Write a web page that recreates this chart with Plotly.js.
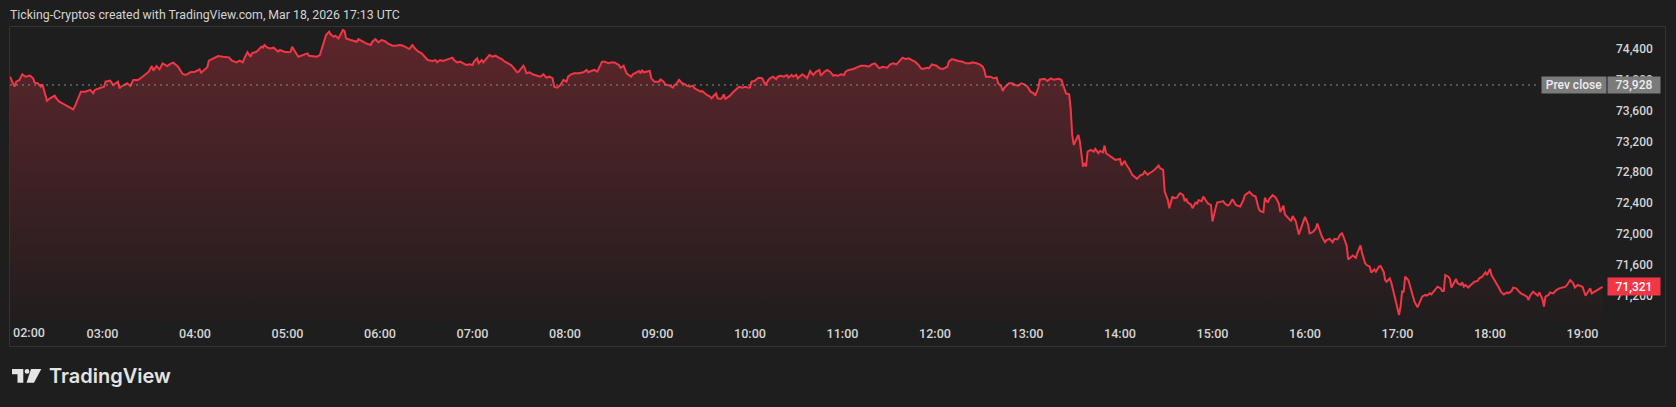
<!DOCTYPE html>
<html>
<head>
<meta charset="utf-8">
<script src="https://cdn.plot.ly/plotly-3.0.1.min.js"></script>
<style>
html,body{margin:0;padding:0;background:#1e1e1e;overflow:hidden}
#chart{width:1676px;height:407px}
</style>
</head>
<body>
<div id="chart"></div>
<script>
// ---------------- data ----------------
const sessionDate = '2026-03-18';
const sessionStartHour = 2; // 02:00
const titleText = 'Ticking-Cryptos created with TradingView.com, Mar 18, 2026 17:13 UTC';
const brandText = 'TradingView';
const prevCloseLabel = 'Prev close';
const prevClose = 73928;
const hourTicks = ['03:00','04:00','05:00','06:00','07:00','08:00','09:00','10:00','11:00','12:00','13:00','14:00','15:00','16:00','17:00','18:00','19:00'];
const firstHourLabel = '02:00';
const priceTicks = [71200, 71600, 72000, 72400, 72800, 73200, 73600, 74000, 74400];

// minutes after 02:00
const minutesFromStart = [
0,3,4,6,8,10,13,15,16,18,20,21,24,26,29,30,32,35,37,39,41,42,44,46,49,52,54,55,58,61,62,65,67,70,71,72,76,78,80,83,86,90,92,93,95,97,99,102,104,106,109,112,114,117,120,123,124,128,129,132,135,138,142,144,147,149,
151,152,154,156,157,160,162,163,164,165,167,169,171,173,174,175,177,178,181,182,183,185,186,187,189,191,193,194,197,199,201,202,204,205,207,208,210,211,213,215,216,217,218,221,223,225,226,228,229,231,234,235,237,239,241,243,245,248,250,253,255,257,259,261,263,265,267,269,271,274,276,277,279,281,283,285,287,288,290,292,294,296,298,
300,301,303,304,306,307,309,311,313,315,317,319,321,323,325,327,329,330,332,333,334,335,337,339,342,344,346,348,350,352,353,355,357,359,361,362,364,366,369,372,374,375,377,379,381,382,384,386,388,390,392,395,396,398,400,402,403,404,406,408,409,410,411,413,415,416,418,421,422,424,425,428,430,431,432,434,436,438,439,441,443,444,446,448,
449,451,452,454,455,457,458,459,461,462,463,464,466,467,469,471,473,475,477,479,480,481,483,485,486,488,489,490,492,493,495,497,498,500,502,504,505,507,508,510,511,512,514,516,517,519,521,522,523,525,526,528,530,532,534,535,537,539,541,542,544,547,548,550,552,555,557,559,561,563,564,566,569,571,573,575,577,579,581,583,585,587,589,591,592,595,596,598,601,603,
605,608,609,611,613,615,618,620,623,624,627,629,631,632,633,636,638,640,641,643,644,645,648,650,652,654,656,658,660,662,664,665,667,668,671,673,675,677,680,682,683,685,687,688,689,690,692,693,694,695,696,697,698,699,701,703,704,706,707,709,710,711,713,716,717,720,721,723,724,726,728,730,731,733,735,736,738,739,741,743,745,746,748,749,751,752,754,755,757,758,
759,761,762,763,764,766,767,769,770,771,773,774,776,777,779,780,782,783,785,787,788,790,791,793,795,796,798,800,801,803,804,806,808,810,811,813,814,815,816,817,819,821,823,824,826,827,829,831,832,834,836,837,839,840,842,843,845,847,848,850,851,853,854,856,858,859,861,863,864,865,867,868,870,871,873,874,876,877,
879,880,882,883,885,886,888,889,891,892,893,895,896,897,899,901,902,903,904,905,907,908,910,911,913,915,916,918,919,921,922,923,925,926,928,929,930,931,933,934,935,937,938,939,941,942,943,944,946,947,949,950,952,953,955,957,958,960,961,963,964,966,967,969,971,972,974,975,977,979,980,982,984,985,986,988,989,991,992,994,995,996,998,999,1001,1003,1005,1007,1009,1010,1012,1014,1015,1017,1020,1022,1023,1025,1026,1028,1030,1031,1033
];

const prices = [
74035,73906,73971,73990,74066,74035,74050,74014,73958,73950,73906,73937,73725,73756,73790,73756,73713,73683,73657,73640,73614,73648,73756,73842,73842,73864,73821,73864,73885,73906,73971,73984,73928,73971,73885,73906,73950,73915,73993,73993,74035,74100,74173,74114,74173,74130,74208,74173,74200,74216,74164,74070,74057,74092,74100,74130,74087,74156,74242,74272,74302,74293,74285,74242,74220,74242,
74220,74272,74350,74293,74336,74358,74401,74422,74410,74444,74410,74401,74410,74380,74358,74380,74367,74358,74350,74358,74422,74367,74324,74293,74306,74315,74336,74306,74293,74293,74315,74380,74487,74573,74616,74582,74551,74564,74530,74595,74638,74625,74530,74509,74496,74487,74521,74496,74487,74466,74444,74487,74521,74478,74509,74496,74466,74435,74435,74444,74435,74410,74392,74444,74392,74358,74336,74293,74250,74238,74250,74220,74250,74238,74250,74263,74281,74250,74220,74229,74208,74186,74194,
74186,74229,74272,74208,74250,74220,74272,74315,74293,74306,74281,74263,74229,74208,74186,74143,74092,74100,74143,74177,74143,74079,74092,74066,74048,74035,74066,74022,74035,74014,73906,73893,73928,73993,73971,74035,74066,74079,74079,74092,74122,74092,74108,74122,74100,74143,74229,74229,74208,74220,74220,74186,74151,74177,74079,74048,74035,74066,74092,74108,74079,74122,74092,74100,74108,74014,73971,73971,74001,73971,73937,73919,73893,73928,73937,73993,73950,73937,73919,73906,73919,73885,73864,73842,
73850,73807,73799,73777,73756,73799,73820,73756,73747,73765,73807,73747,73777,73790,73833,73876,73906,73893,73906,73893,73897,73971,73980,74014,74022,74014,73971,73928,73993,74014,74035,74001,74035,74048,74035,74057,74022,74057,74035,74057,74014,74035,74066,74035,74014,74108,74057,74079,74100,74122,74048,74092,74122,74100,74048,74057,74048,74066,74057,74100,74122,74134,74143,74164,74177,74177,74164,74194,74208,74164,74143,74164,74151,74194,74208,74194,74237,74281,74263,74272,74250,74229,74194,74143,74134,74151,74143,74194,74177,74143,
74134,74164,74229,74263,74250,74237,74229,74208,74208,74220,74208,74194,74164,74121,74035,74035,74014,74022,73950,73906,73850,73893,73950,73950,73928,73919,73950,73937,73906,73842,73820,73790,73889,73996,74009,73980,74014,73996,74009,73996,73932,73820,73807,73627,73283,73154,73240,73283,73197,73025,72874,72917,72874,73068,73089,73068,73102,73046,73076,73059,73145,73046,73016,72973,72960,72973,72888,72947,72904,72844,72767,72732,72715,72758,72775,72810,72767,72788,72810,72844,72888,72853,72831,72552,72444,72336,72487,72466,72474,72509,
72530,72504,72427,72460,72409,72384,72336,72409,72397,72440,72427,72487,72418,72397,72375,72164,72336,72409,72418,72427,72397,72370,72384,72453,72384,72370,72358,72440,72504,72530,72547,72504,72487,72328,72298,72285,72474,72427,72418,72460,72504,72474,72397,72285,72370,72255,72212,72169,72234,72169,71997,72062,72169,72225,72126,72011,72027,72070,72139,72040,71967,71897,71923,71940,71897,71940,71932,71997,72011,71967,71855,71674,71708,71725,71695,71760,71855,71760,
71624,71602,71581,71503,71546,71516,71581,71589,71516,71409,71387,71430,71374,71279,71128,70956,71064,71260,71257,71451,71409,71344,71193,71128,71056,71150,71193,71215,71206,71236,71222,71248,71293,71322,71301,71266,71266,71473,71451,71422,71310,71387,71422,71365,71344,71378,71322,71344,71310,71336,71365,71387,71396,71430,71451,71508,71473,71551,71473,71408,71365,71301,71258,71222,71248,71236,71266,71310,71301,71266,71236,71215,71193,71150,71206,71258,71236,71206,71248,71163,71064,71193,71215,71248,71236,71279,71301,71310,71322,71344,71408,71365,71310,71344,71322,71206,71236,71301,71236,71258,71279,71301,71321
];

// ---------------- helpers ----------------
const pad2 = n => String(n).padStart(2, '0');
const stamp = m => sessionDate + ' ' + pad2(sessionStartHour + Math.floor(m / 60)) + ':' + pad2(m % 60);
const times = minutesFromStart.map(stamp);
const fmt = v => v.toLocaleString('en-US');
const lastPrice = prices[prices.length - 1];

// page geometry (pixels)
const W = 1676, H = 407, ML = 10, MR = 70, MT = 27, MB = 85;
const PW = W - ML - MR, PH = H - MT - MB;
const px = X => (X - ML) / PW;
const py = Y => (H - MB - Y) / PH;
const poly = pts => 'M' + pts.map(p => px(p[0]) + ',' + py(p[1])).join('L') + 'Z';

const yMin = 70866, yMax = 74677;
const FONT = 'Roboto, "Open Sans", sans-serif';
const TXT = '#d4d4d4';

const trace = {
  type: 'scatter', mode: 'lines',
  x: times, y: prices,
  line: {color: '#f23645', width: 2},
  fill: 'tozeroy',
  fillgradient: {
    type: 'vertical', start: yMin, stop: yMax,
    colorscale: [[0, 'rgb(33,29,30)'], [1, 'rgb(94,38,43)']]
  },
  hoverinfo: 'skip'
};

const layout = {
  width: W, height: H,
  margin: {l: ML, r: MR, t: MT, b: MB, pad: 0},
  paper_bgcolor: '#1e1e1e', plot_bgcolor: '#1e1e1e',
  showlegend: false,
  font: {family: FONT, color: TXT, size: 12},
  title: {
    text: titleText, xref: 'container', yref: 'container',
    x: 10 / W, xanchor: 'left', y: 1 - 15 / H, yanchor: 'middle',
    font: {family: FONT, size: 12.3, color: TXT}
  },
  xaxis: {
    type: 'date',
    range: [sessionDate + ' 02:00', sessionDate + ' 19:15:15'],
    tickmode: 'array',
    tickvals: hourTicks.map(h => sessionDate + ' ' + h),
    ticktext: hourTicks,
    showgrid: false, zeroline: false, showline: false, ticks: '',
    ticklabelstandoff: 2,
    tickfont: {family: FONT, size: 12.6, color: TXT, weight: 500},
    automargin: false, fixedrange: true
  },
  yaxis: {
    side: 'right', range: [yMin, yMax],
    tickmode: 'array', tickvals: priceTicks, tickformat: ',d',
    showgrid: false, zeroline: false, showline: false, ticks: '',
    ticklabelstandoff: 9,
    tickfont: {family: FONT, size: 12, color: TXT, weight: 500},
    automargin: false, fixedrange: true
  },
  shapes: [
    // panel border
    {type: 'rect', xref: 'paper', yref: 'paper', x0: px(9.5), x1: px(1665.5), y0: py(346.5), y1: py(26.5),
     line: {color: '#333333', width: 1}, layer: 'below'},
    // previous close dotted line
    {type: 'line', xref: 'paper', yref: 'y', x0: 0, x1: px(1540), y0: prevClose, y1: prevClose,
     line: {color: '#8c8c8c', width: 1, dash: '2px,4px'}, layer: 'above'},
    // TradingView logo marks
    {type: 'path', xref: 'paper', yref: 'paper', layer: 'above', line: {width: 0}, fillcolor: '#e4e4e4',
     path: poly([[12,369],[23.3,369],[23.3,382.7],[17.5,382.7],[17.5,374.2],[12,374.2]])},
    {type: 'circle', xref: 'paper', yref: 'paper', layer: 'above', line: {width: 0}, fillcolor: '#e4e4e4',
     x0: px(24.6), x1: px(29.4), y0: py(373.8), y1: py(369)},
    {type: 'path', xref: 'paper', yref: 'paper', layer: 'above', line: {width: 0}, fillcolor: '#e4e4e4',
     path: poly([[31,369],[41.3,369],[34,382.7],[26.5,382.7]])}
  ],
  annotations: [
    {text: firstHourLabel, xref: 'x', yref: 'paper', x: sessionDate + ' 02:00', xshift: 1,
     y: py(332.5), xanchor: 'left', yanchor: 'middle', showarrow: false,
     font: {family: FONT, size: 12.6, color: TXT, weight: 500}},
    {text: prevCloseLabel, xref: 'paper', yref: 'y', x: px(1574), y: prevClose,
     xanchor: 'center', yanchor: 'middle', showarrow: false, width: 64, height: 16, borderpad: 0,
     bgcolor: '#7b7b7b', font: {family: FONT, size: 12, color: '#ededed', weight: 500}},
    {text: fmt(prevClose), xref: 'paper', yref: 'y', x: px(1634), y: prevClose,
     xanchor: 'center', yanchor: 'middle', showarrow: false, width: 52, height: 16, borderpad: 0,
     bgcolor: '#7b7b7b', font: {family: FONT, size: 12, color: '#ededed', weight: 500}},
    {text: fmt(lastPrice), xref: 'paper', yref: 'y', x: px(1634), y: lastPrice,
     xanchor: 'center', yanchor: 'middle', showarrow: false, width: 52, height: 17, borderpad: 0,
     bgcolor: '#f23645', font: {family: FONT, size: 12, color: '#ffffff', weight: 500}},
    {text: brandText, xref: 'paper', yref: 'paper', x: px(46.5), y: py(376),
     xanchor: 'left', yanchor: 'middle', showarrow: false,
     font: {family: 'Inter, Roboto, sans-serif', size: 20, color: '#e4e4e4', weight: 600}}
  ]
};

Plotly.newPlot('chart', [trace], layout, {staticPlot: true, displayModeBar: false});
</script>
</body>
</html>
